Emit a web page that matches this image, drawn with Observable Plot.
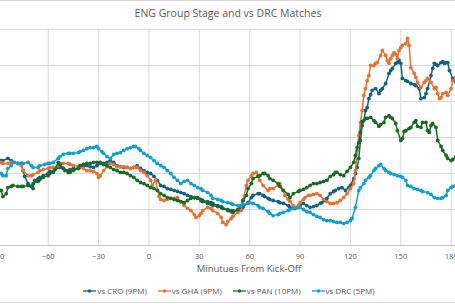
<!DOCTYPE html>
<html>
<head>
<meta charset="utf-8">
<script src="https://cdn.jsdelivr.net/npm/d3@7"></script>
<script src="https://cdn.jsdelivr.net/npm/@observablehq/plot@0.6"></script>
<style>
  html, body { margin: 0; padding: 0; background: #fff; }
  #chart { position: relative; width: 455px; height: 304px; overflow: hidden; font-family: "Open Sans", "Noto Sans", sans-serif; }
  #chart > svg { position: absolute; left: 0; top: 0; }
  .edge { position: absolute; left: 0; width: 455px; height: 1px; background: #d9d9d9; }
  #legend { position: absolute; left: 0; top: 285px; width: 455px; display: flex; justify-content: center; gap: 11px; font-size: 8px; line-height: 12px; color: #595959; padding-left: 3px; box-sizing: border-box; }
  #legend .item { display: flex; align-items: center; gap: 1px; }
  #legend svg { display: block; }
</style>
</head>
<body>
<div id="chart">
  <div class="edge" style="top:0"></div>
  <div class="edge" style="top:302px"></div>
  <div id="legend"></div>
</div>
<script>
// Series labels and colours
const seriesNames = ["vs CRO (9PM)", "vs GHA (9PM)", "vs PAN (10PM)", "vs DRC (5PM)"];
const seriesColors = ["#156082", "#E97132", "#196B24", "#0F9ED5"];

// Axis ticks
const xTicks = [-90, -60, -30, 0, 30, 60, 90, 120, 150, 180];
const yTicks = [0, 10, 20, 30, 40, 50, 60];

// [minutes from kick-off, value]
const cro = [[-88,23.6],[-87,23.6],[-84,24.2],[-82,23.6],[-81,23.1],[-78,22.8],[-76,22.8],[-75,20.8],[-74,19.2],[-72,17.2],[-70,16.4],[-69,15.8],[-68,18.1],[-66,18.6],[-65,18.9],[-63,19.4],[-60,20.0],[-59,20.6],[-57,20.3],[-54,21.7],[-53,21.7],[-51,21.4],[-48,20.8],[-47,21.1],[-45,21.4],[-42,21.4],[-41,21.7],[-39,21.9],[-37,22.2],[-35,21.9],[-33,21.7],[-31,22.2],[-29,22.8],[-27,22.8],[-25,23.1],[-23,23.6],[-21,23.1],[-19,22.2],[-17,21.9],[-15,21.7],[-13,21.7],[-11,21.4],[-9,21.7],[-7,22.2],[-5,21.4],[-3,20.8],[-1,20.3],[1,20.0],[3,19.2],[5,18.1],[7,16.7],[9,16.4],[11,15.8],[13,15.6],[15,15.3],[17,15.0],[19,14.7],[21,14.4],[23,13.9],[25,13.6],[27,13.3],[29,13.1],[31,12.5],[32,12.2],[35,11.7],[37,11.4],[38,11.1],[41,10.8],[43,10.8],[44,10.3],[47,10.0],[49,9.7],[50,9.7],[53,9.7],[55,10.0],[56,10.6],[59,11.9],[61,13.3],[62,13.9],[65,14.4],[66,14.4],[68,13.9],[69,13.6],[71,13.1],[72,12.8],[74,12.5],[77,12.2],[78,11.9],[80,11.7],[83,11.1],[84,10.6],[86,10.3],[87,10.3],[89,10.6],[90,11.1],[92,11.7],[94,11.1],[96,10.6],[98,10.8],[100,11.1],[102,11.7],[103,11.9],[105,12.5],[106,13.1],[108,14.4],[110,15.0],[111,15.3],[113,15.8],[115,16.1],[117,15.3],[119,16.1],[120,16.7],[122,18.6],[123,20.0],[124,21.7],[125,24.2],[126,29.2],[127,33.3],[128,34.7],[129,37.5],[130,38.3],[131,40.8],[132,41.9],[133,43.1],[135,43.6],[137,42.2],[138,43.1],[139,43.6],[141,45.0],[143,47.8],[144,48.6],[145,49.2],[147,50.6],[148,50.8],[149,51.4],[150,50.6],[151,46.4],[153,45.8],[154,45.6],[156,45.0],[158,44.7],[159,44.4],[161,43.6],[162,40.8],[164,41.1],[165,42.2],[166,43.6],[168,47.2],[169,49.2],[170,50.6],[171,50.3],[172,50.0],[174,50.8],[175,51.1],[176,50.6],[177,50.8],[178,50.8],[179,48.6],[181,46.4],[183,45.3]];

const gha = [[-88,23.1],[-87,22.8],[-84,22.8],[-82,23.1],[-81,23.1],[-78,22.8],[-76,22.2],[-75,20.8],[-72,19.4],[-70,19.4],[-69,19.7],[-66,20.3],[-65,20.8],[-63,21.1],[-60,21.4],[-59,21.7],[-57,21.7],[-54,22.2],[-53,22.8],[-51,22.8],[-48,22.8],[-47,22.5],[-45,22.2],[-42,21.9],[-41,21.7],[-39,21.4],[-37,20.8],[-35,20.8],[-33,20.6],[-31,20.0],[-30,18.9],[-29,19.4],[-27,20.8],[-25,21.9],[-23,22.8],[-21,22.5],[-19,21.9],[-17,21.9],[-15,21.9],[-13,21.7],[-11,21.4],[-9,21.7],[-7,21.7],[-5,20.8],[-3,20.3],[-1,19.4],[1,18.1],[2,16.7],[4,18.1],[6,13.6],[7,12.8],[9,12.5],[11,12.8],[13,13.1],[15,13.1],[17,13.3],[19,12.2],[21,11.1],[23,10.3],[25,9.7],[27,8.6],[28,7.8],[30,8.3],[31,8.9],[32,9.7],[35,10.6],[37,10.3],[38,9.7],[41,8.9],[43,7.8],[44,6.4],[46,5.8],[47,6.7],[49,7.5],[50,8.1],[53,9.2],[55,9.7],[56,12.5],[58,16.7],[59,18.1],[61,19.4],[62,20.0],[64,20.3],[65,19.4],[66,18.1],[68,16.7],[71,15.3],[72,15.8],[74,15.8],[77,16.7],[78,17.2],[80,15.3],[81,13.9],[83,12.8],[84,12.2],[86,11.1],[87,10.6],[89,11.1],[90,11.9],[92,12.8],[93,13.3],[95,13.9],[96,13.9],[98,14.2],[100,14.4],[102,13.9],[104,12.8],[106,12.2],[108,11.7],[110,11.7],[112,11.9],[114,12.5],[116,13.3],[118,14.4],[120,15.8],[122,17.2],[123,20.8],[124,26.4],[125,30.6],[126,34.2],[127,37.5],[128,41.7],[129,43.6],[130,45.8],[131,47.2],[132,50.0],[134,50.0],[135,50.6],[136,50.8],[138,52.8],[139,54.2],[141,52.8],[142,51.4],[143,50.6],[144,51.9],[145,52.8],[146,53.6],[147,53.1],[148,51.9],[149,54.2],[150,55.0],[151,55.6],[153,56.1],[154,57.5],[155,55.6],[156,49.4],[158,47.8],[159,46.7],[160,45.3],[162,43.9],[164,45.3],[165,45.8],[166,46.4],[168,45.3],[170,43.6],[171,43.9],[172,42.2],[173,40.8],[174,41.1],[175,42.2],[177,42.5],[178,41.7],[180,43.6],[181,45.8],[183,46.7]];

const pan = [[-88,15.3],[-87,13.6],[-85,14.4],[-84,16.1],[-82,16.4],[-81,16.7],[-78,16.4],[-76,16.4],[-75,16.4],[-72,16.7],[-70,16.4],[-69,17.2],[-66,17.8],[-65,18.3],[-63,18.9],[-60,19.4],[-59,20.0],[-57,20.6],[-56,21.1],[-54,23.1],[-53,22.5],[-51,21.4],[-50,20.8],[-48,20.3],[-47,20.3],[-45,20.8],[-42,21.4],[-41,22.2],[-39,22.5],[-37,22.8],[-35,22.8],[-33,23.1],[-31,23.1],[-29,23.1],[-27,22.5],[-25,22.2],[-23,21.7],[-21,21.1],[-19,20.8],[-17,20.3],[-15,20.3],[-13,20.0],[-11,19.4],[-9,18.9],[-7,18.1],[-5,17.5],[-3,17.2],[-1,16.7],[1,16.1],[3,15.8],[5,15.3],[7,14.4],[9,13.9],[11,13.3],[13,13.1],[15,12.8],[17,12.5],[19,12.2],[21,11.9],[23,12.5],[25,13.1],[27,13.3],[29,13.3],[31,12.8],[32,12.5],[35,12.2],[37,11.9],[38,11.7],[41,11.1],[43,10.6],[44,10.3],[47,9.7],[49,9.4],[50,9.2],[53,10.0],[55,11.1],[56,12.5],[58,13.9],[59,15.8],[61,17.2],[62,18.6],[65,19.2],[66,19.4],[68,20.0],[69,20.0],[71,19.4],[72,18.6],[74,18.1],[77,17.2],[78,16.4],[80,15.3],[83,14.2],[84,13.3],[86,14.4],[89,15.0],[90,15.3],[92,15.6],[94,16.1],[96,16.7],[98,17.2],[100,17.2],[102,17.5],[104,17.8],[106,18.1],[108,19.2],[110,19.7],[111,20.3],[112,20.3],[114,19.7],[116,19.4],[118,20.6],[120,21.7],[122,23.1],[123,25.0],[124,27.2],[125,28.6],[126,31.4],[127,34.4],[129,35.3],[130,35.3],[132,35.6],[134,34.7],[135,34.2],[137,33.1],[138,33.6],[140,34.2],[141,35.6],[143,36.1],[144,35.6],[145,35.3],[147,33.9],[148,31.9],[150,29.2],[151,29.7],[152,31.7],[153,31.9],[155,32.5],[156,32.8],[158,34.2],[159,34.7],[160,33.1],[162,32.8],[163,34.2],[165,34.2],[166,31.9],[167,31.4],[168,33.3],[169,33.9],[171,32.8],[172,29.2],[174,27.5],[175,26.4],[177,25.0],[178,24.2],[180,23.6],[181,23.9],[183,24.7]];

const drc = [[-88,20.0],[-87,19.4],[-85,19.4],[-84,21.4],[-82,22.2],[-81,23.1],[-80,23.1],[-78,22.8],[-76,22.8],[-75,22.8],[-72,23.1],[-70,22.2],[-69,21.7],[-66,21.7],[-65,22.2],[-62,22.5],[-60,22.8],[-59,22.8],[-57,23.1],[-54,24.2],[-53,24.7],[-51,25.3],[-48,25.6],[-47,25.6],[-45,25.6],[-42,25.8],[-41,26.1],[-39,26.4],[-37,26.9],[-35,27.2],[-33,27.2],[-31,27.5],[-30,26.9],[-28,26.1],[-27,25.6],[-25,24.7],[-23,24.2],[-21,25.3],[-19,25.6],[-17,25.8],[-15,26.4],[-13,26.9],[-11,27.2],[-9,27.5],[-8,27.5],[-6,26.9],[-5,26.4],[-3,25.6],[-1,25.0],[1,24.4],[3,23.6],[5,22.8],[7,22.2],[9,21.7],[11,20.8],[13,20.0],[15,18.9],[17,18.1],[19,17.2],[21,17.8],[23,18.1],[25,17.2],[27,16.7],[29,16.1],[31,15.8],[32,15.3],[35,14.7],[37,13.9],[38,13.1],[41,12.8],[43,12.5],[44,12.2],[47,11.9],[49,11.7],[50,11.4],[53,11.1],[55,11.1],[56,11.4],[59,11.7],[60,11.9],[62,11.7],[65,11.1],[66,10.6],[68,10.3],[71,9.4],[72,8.9],[74,8.3],[77,8.6],[78,8.9],[80,9.2],[83,9.7],[84,10.0],[86,10.3],[89,10.6],[90,10.6],[92,10.0],[94,9.4],[96,9.2],[98,8.6],[100,8.1],[102,7.8],[104,7.2],[106,6.9],[108,6.9],[110,6.7],[112,6.4],[114,6.4],[116,6.1],[118,6.4],[120,6.9],[121,7.5],[123,10.6],[125,15.3],[126,16.1],[128,17.2],[129,18.1],[131,18.9],[132,19.4],[134,20.8],[135,21.4],[137,22.2],[138,22.5],[140,21.4],[141,20.8],[143,20.3],[144,20.0],[146,19.7],[148,19.4],[150,19.2],[151,18.9],[153,18.1],[154,16.7],[156,16.4],[158,15.8],[160,15.6],[162,15.3],[163,15.0],[166,14.7],[168,14.2],[170,13.3],[172,13.1],[174,13.1],[175,13.3],[177,13.9],[178,15.3],[180,16.1],[181,16.4],[183,16.7]];

const seriesData = [cro, gha, pan, drc];
const rows = seriesData.flatMap((pts, i) =>
  pts.map(([minute, value]) => ({series: seriesNames[i], minute, value}))
);

// One line + markers per series, drawn in order so later series sit on top
const seriesMarks = seriesNames.flatMap((name) => {
  const d = rows.filter((r) => r.series === name);
  return [
    Plot.line(d, {x: "minute", y: "value", stroke: "series", strokeWidth: 1.5, clip: true}),
    Plot.dot(d, {x: "minute", y: "value", fill: "series", r: 1.9, clip: true})
  ];
});

const chart = Plot.plot({
  width: 455,
  height: 304,
  marginTop: 29,
  marginBottom: 59,
  marginLeft: 0,
  marginRight: 0,
  style: {color: "#595959", fontFamily: "'Open Sans', 'Noto Sans', sans-serif", background: "transparent"},
  x: {domain: [-88.4, 182.6], axis: null},
  y: {domain: [0, 60], axis: null},
  color: {domain: seriesNames, range: seriesColors},
  marks: [
    Plot.gridX(xTicks, {stroke: "#d9d9d9", strokeOpacity: 1}),
    Plot.gridY(yTicks, {stroke: "#d9d9d9", strokeOpacity: 1}),
    Plot.ruleY([0], {stroke: "#c8c8c8", strokeWidth: 1.2}),
    Plot.axisX(xTicks, {tickSize: 0, tickPadding: 8, fontSize: 7.5, label: null}),
    Plot.text(["Minutues From Kick-Off"], {frameAnchor: "bottom", lineAnchor: "middle", dy: 23, dx: 21, fontSize: 9.5}),
    Plot.text(["ENG Group Stage and vs DRC Matches"], {frameAnchor: "top", lineAnchor: "middle", dy: -16, fontSize: 10.5}),
    ...seriesMarks
  ]
});
document.getElementById("chart").prepend(chart);

// Legend: line-with-marker swatches
const legend = document.getElementById("legend");
seriesNames.forEach((name, i) => {
  const item = document.createElement("div");
  item.className = "item";
  item.innerHTML = `<svg width="13" height="6"><line x1="0" y1="3" x2="13" y2="3" stroke="${seriesColors[i]}" stroke-width="1.3"/><circle cx="6.5" cy="3" r="1.7" fill="${seriesColors[i]}"/></svg><span>${name}</span>`;
  legend.appendChild(item);
});
</script>
</body>
</html>
